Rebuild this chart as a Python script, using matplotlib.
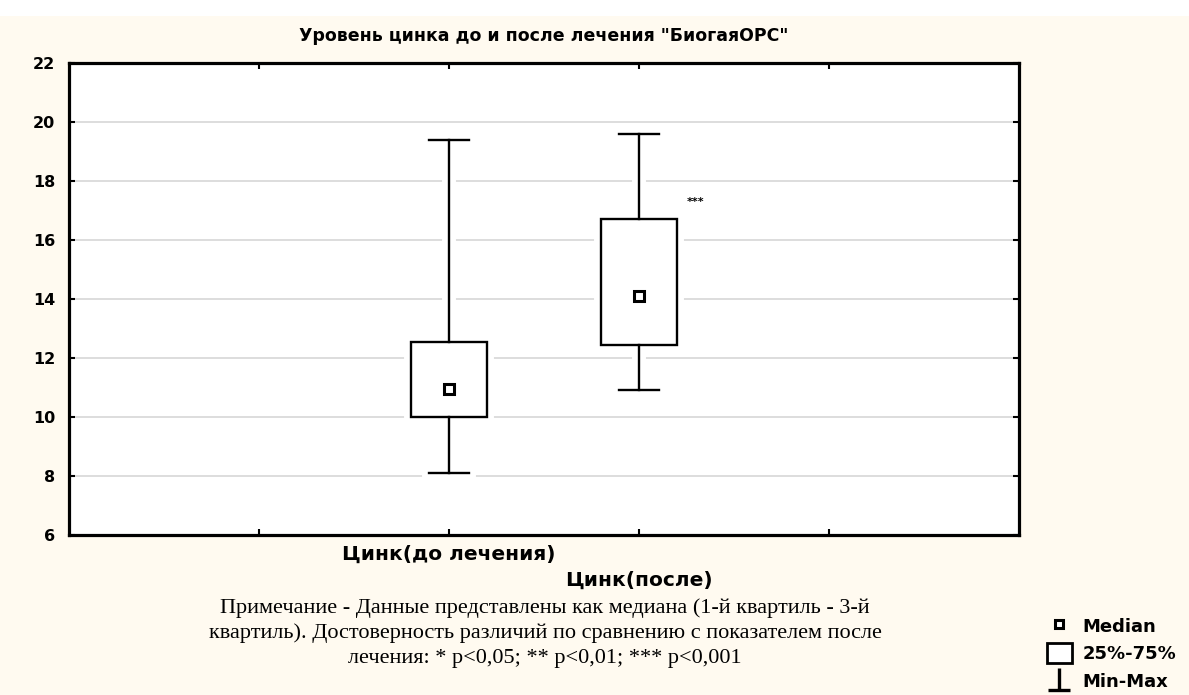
import matplotlib.pyplot as plt
import matplotlib.patches as mpatches
from matplotlib.lines import Line2D
from matplotlib.path import Path

# data
groups = ["Цинк(до лечения)", "Цинк(после)"]
positions = [2, 3]
q_min = [8.1, 10.9]
q1 = [10.0, 12.45]
median = [10.95, 14.1]
q3 = [12.55, 16.7]
q_max = [19.4, 19.6]
stars = ["", "***"]

title = 'Уровень цинка до и после лечения "БиогаяОРС"'
note_lines = [
    "Примечание - Данные представлены как медиана (1-й квартиль - 3-й",
    "квартиль). Достоверность различий по сравнению с показателем после",
    "лечения: * p<0,05; ** p<0,01; *** p<0,001",
]

cream = "#fffaf0"

fig = plt.figure(figsize=(11.89, 6.95), dpi=100, facecolor=cream)
# white strip along the top edge
fig.patches.append(mpatches.Rectangle((0, 1 - 16 / 695), 1, 16 / 695, transform=fig.transFigure,
                                      facecolor="white", edgecolor="none", zorder=-1))
ax = fig.add_axes([69 / 1189, 1 - 535 / 695, 950 / 1189, 472 / 695])
ax.set_facecolor("white")

stats = []
for i in range(len(groups)):
    stats.append({"med": median[i], "q1": q1[i], "q3": q3[i],
                  "whislo": q_min[i], "whishi": q_max[i], "label": groups[i]})

# white halo underneath (the grid breaks around the boxes in the original)
bxp_kw = dict(positions=positions, widths=0.405, capwidths=0.215, patch_artist=True,
              showfliers=False, manage_ticks=False, medianprops=dict(visible=False))
halo = ax.bxp(stats, boxprops=dict(facecolor="white", edgecolor="white", linewidth=10),
              whiskerprops=dict(color="white", linewidth=10),
              capprops=dict(color="white", linewidth=10), **bxp_kw)
for art in halo["boxes"] + halo["whiskers"] + halo["caps"]:
    art.set_zorder(2.5)
bp = ax.bxp(stats, boxprops=dict(facecolor="white", edgecolor="black", linewidth=1.7),
            whiskerprops=dict(color="black", linewidth=1.7),
            capprops=dict(color="black", linewidth=1.7), **bxp_kw)
for art in bp["boxes"] + bp["whiskers"] + bp["caps"]:
    art.set_zorder(3)

ax.plot(positions, median, "s", ms=7.5, mfc="white", mec="black", mew=2.2, zorder=4)

for x, top, s in zip(positions, q3, stars):
    if s:
        ax.text(x + 0.3, top + 0.6, s, fontsize=8, fontweight="bold", ha="center", va="center")

ax.set_xlim(0, 5)
ax.set_ylim(6, 22)
ax.set_yticks(range(6, 23, 2))
ax.yaxis.grid(True, color="#d3d3d3", linewidth=1.1)
ax.set_axisbelow(True)

ax.set_xticks([1, 2, 4], ["", groups[0], ""])
ax.set_xticks([3], [groups[1]], minor=True)
ax.tick_params(axis="x", which="both", direction="in", length=4, width=1.5,
               top=True, labelsize=14.5, pad=7)
ax.tick_params(axis="x", which="minor", pad=26)
ax.tick_params(axis="y", direction="in", length=4, width=1.5, right=True, labelsize=11.5, pad=10)
for lab in ax.get_xticklabels(which="both") + ax.get_yticklabels():
    lab.set_fontweight("bold")

for sp in ax.spines.values():
    sp.set_linewidth(2.3)

ax.set_title(title, fontsize=12.5, fontweight="bold", pad=16)

for k, line in enumerate(note_lines):
    fig.text(545 / 1189, 1 - (608 + 25 * k) / 695, line, ha="center", va="center",
             fontsize=16, family="Liberation Serif")

whisker_marker = Path([(0, 1), (0, -1), (-1, -1), (1, -1)],
                      [Path.MOVETO, Path.LINETO, Path.MOVETO, Path.LINETO])
handles = [
    Line2D([], [], ls="none", marker="s", ms=6, mfc="white", mec="black", mew=2.2),
    mpatches.Patch(facecolor="white", edgecolor="black", linewidth=2),
    Line2D([], [], ls="none", marker=whisker_marker, ms=16, mec="black", mew=2.4),
]
fig.legend(handles, ["Median", "25%-75%", "Min-Max"], loc="lower right",
           bbox_to_anchor=(1.0, -0.012), frameon=False, handlelength=1.4, handleheight=1.3,
           handletextpad=0.6, labelspacing=0.42, borderpad=0.2,
           prop={"size": 13, "weight": "bold"})

fig.savefig("out.png", dpi=100, facecolor=cream)
